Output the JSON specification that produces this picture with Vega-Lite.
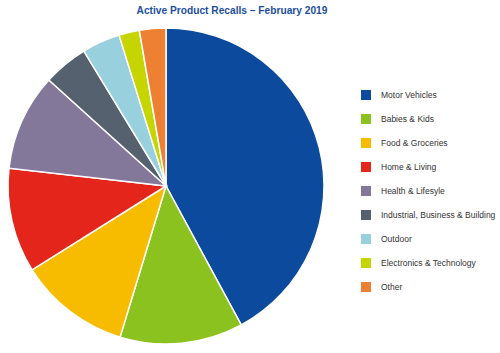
{
  "$schema": "https://vega.github.io/schema/vega-lite/v6.json",
  "autosize": "none",
  "width": 332,
  "height": 316,
  "padding": {"left": 0, "top": 28, "right": 168, "bottom": 9},
  "background": "white",
  "title": {
    "text": "Active Product Recalls – February 2019",
    "font": "Liberation Sans",
    "fontSize": 10.2,
    "fontWeight": "bold",
    "color": "#1d4f9c",
    "anchor": "middle",
    "dx": 66,
    "offset": 9
  },
  "data": {
    "values": [
      {"category": "Motor Vehicles", "share": 42.1, "rank": 1},
      {"category": "Babies & Kids", "share": 12.6, "rank": 2},
      {"category": "Food & Groceries", "share": 11.4, "rank": 3},
      {"category": "Home & Living", "share": 10.7, "rank": 4},
      {"category": "Health & Lifesyle", "share": 9.9, "rank": 5},
      {"category": "Industrial, Business & Building", "share": 4.6, "rank": 6},
      {"category": "Outdoor", "share": 3.9, "rank": 7},
      {"category": "Electronics & Technology", "share": 2.1, "rank": 8},
      {"category": "Other", "share": 2.7, "rank": 9}
    ]
  },
  "mark": {"type": "arc", "outerRadius": 158, "stroke": "white", "strokeWidth": 1.5},
  "encoding": {
    "theta": {"field": "share", "type": "quantitative", "stack": true},
    "order": {"field": "rank", "type": "quantitative"},
    "color": {
      "field": "category",
      "type": "nominal",
      "scale": {
        "domain": ["Motor Vehicles", "Babies & Kids", "Food & Groceries", "Home & Living", "Health & Lifesyle", "Industrial, Business & Building", "Outdoor", "Electronics & Technology", "Other"],
        "range": ["#0b4a9c", "#8cc21f", "#f7bc00", "#e3251b", "#84789a", "#566170", "#98d1dd", "#c6d500", "#ee8034"]
      },
      "legend": {
        "title": null,
        "orient": "none",
        "legendX": 361,
        "legendY": 62,
        "padding": 0,
        "symbolType": "square",
        "symbolSize": 100,
        "symbolStrokeWidth": 0,
        "rowPadding": 14,
        "labelFont": "Liberation Sans",
        "labelFontSize": 8.5,
        "labelColor": "#333333",
        "labelOffset": 10,
        "labelLimit": 200
      }
    }
  },
  "config": {"view": {"stroke": null}}
}
